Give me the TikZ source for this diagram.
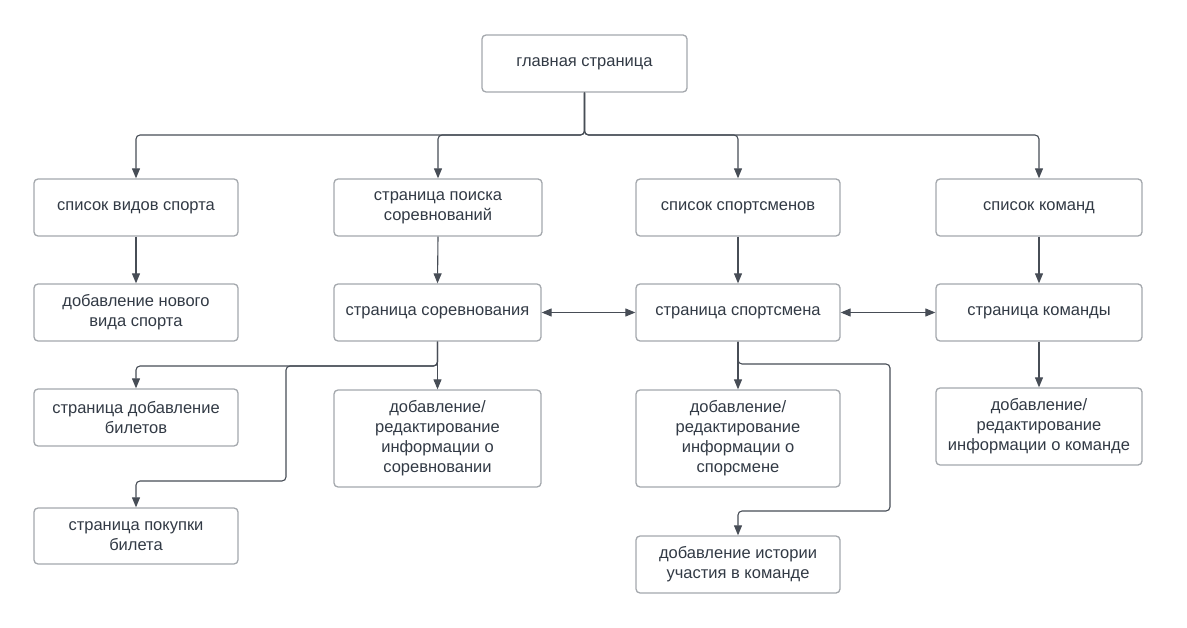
\documentclass[tikz,border=0pt]{standalone}
\usepackage{fontspec}
\setmainfont{Liberation Sans}
\usetikzlibrary{arrows.meta}
\definecolor{boxgray}{HTML}{A4A8AD}
\definecolor{linecol}{HTML}{474D56}
\definecolor{txt}{HTML}{323A45}
\tikzset{
  box/.style={draw=boxgray, line width=1.3pt, rounded corners=4pt, fill=white, text=txt,
    align=center, font=\fontsize{16.5}{20}\selectfont, inner sep=0pt, minimum height=57pt},
  conn/.style={draw=linecol, line width=1.1pt, rounded corners=4pt, -{Triangle[length=10pt,width=8pt]}},
  dconn/.style={draw=linecol, line width=1.1pt, {Triangle[length=10pt,width=8pt]}-{Triangle[length=10pt,width=8pt]}}
}
\begin{document}
\begin{tikzpicture}[x=1pt,y=-1pt]
\useasboundingbox (0,0) rectangle (1187,628);
% nodes
\node[box, minimum width=205pt] (main) at (584.5,63.5) {главная страница};
\node[box, minimum width=204pt] (A) at (136,207.5) {список видов спорта};
\node[box, minimum width=208pt] (B) at (438,207.5) {страница поиска\\соревнований};
\node[box, minimum width=204pt] (C) at (738,207.5) {список спортсменов};
\node[box, minimum width=206pt] (D) at (1039,207.5) {список команд};
\node[box, minimum width=204pt] (A2) at (136,312.5) {добавление нового\\вида спорта};
\node[box, minimum width=207pt] (B2) at (437.5,312.5) {страница соревнования};
\node[box, minimum width=204pt] (C2) at (738,312.5) {страница спортсмена};
\node[box, minimum width=206pt] (D2) at (1039,312.5) {страница команды};
\node[box, minimum width=204pt] (A3) at (136,417.5) {страница добавление\\билетов};
\node[box, minimum width=207pt, minimum height=97pt] (B3) at (437.5,438.5) {добавление/\\редактирование\\информации о\\соревновании};
\node[box, minimum width=204pt, minimum height=97pt] (C3) at (738,438.5) {добавление/\\редактирование\\информации о\\спорсмене};
\node[box, minimum width=206pt, minimum height=77pt] (D3) at (1039,426.5) {добавление/\\редактирование\\информации о команде};
\node[box, minimum width=204pt, minimum height=56pt] (A4) at (136,536) {страница покупки\\билета};
\node[box, minimum width=204pt] (C4) at (738,564.5) {добавление истории\\участия в команде};
% bends
\coordinate (bus) at (584.5,135);
\coordinate (b1) at (437.5,366);
\coordinate (b2) at (286,366);
\coordinate (b3) at (286,481);
\coordinate (c1) at (738,364);
\coordinate (c2) at (890,364);
\coordinate (c3) at (890,511);
% connectors
\draw[conn] (main.south) -- (bus) -| (A.north);
\draw[conn] (main.south) -- (bus) -| (B.north);
\draw[conn] (main.south) -- (bus) -| (C.north);
\draw[conn] (main.south) -- (bus) -| (D.north);
\draw[conn] (A.south) -- (A2.north);
\draw[conn] (B.south) -- (B2.north);
\draw[conn] (C.south) -- (C2.north);
\draw[conn] (D.south) -- (D2.north);
\draw[conn] (D2.south) -- (D3.north);
\draw[dconn] (B2.east) -- (C2.west);
\draw[dconn] (C2.east) -- (D2.west);
\draw[conn] (B2.south) -- (B3.north);
\draw[conn] (B2.south) -- (b1) -| (A3.north);
\draw[conn] (B2.south) -- (b1) -- (b2) -- (b3) -| (A4.north);
\draw[conn] (C2.south) -- (C3.north);
\draw[conn] (C2.south) -- (c1) -- (c2) -- (c3) -| (C4.north);
\end{tikzpicture}
\end{document}
